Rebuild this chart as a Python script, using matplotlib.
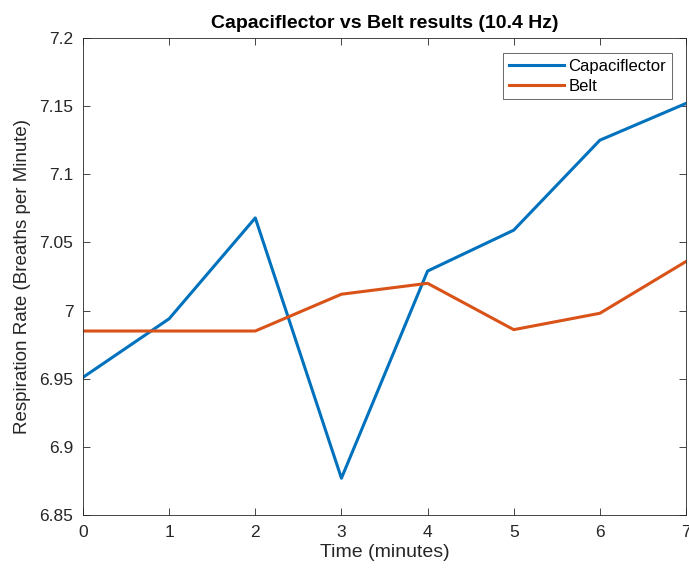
import matplotlib
matplotlib.use("Agg")
import matplotlib.pyplot as plt

# values
minutes = [0, 1, 2, 3, 4, 5, 6, 7]
capaciflector = [6.951, 6.994, 7.068, 6.877, 7.029, 7.059, 7.125, 7.152]
belt = [6.985, 6.985, 6.985, 7.012, 7.020, 6.986, 6.998, 7.036]
yticks = [6.85, 6.9, 6.95, 7.0, 7.05, 7.1, 7.15, 7.2]
ytick_labels = ["6.85", "6.9", "6.95", "7", "7.05", "7.1", "7.15", "7.2"]

plt.rcParams['font.family'] = ['Liberation Sans', 'DejaVu Sans']
axis_col = (0.15, 0.15, 0.15)

fig = plt.figure(figsize=(6.89, 5.69), dpi=100)
ax = fig.add_axes([83 / 689, 1 - 515 / 569, (686 - 83) / 689, (515 - 38) / 569])

ax.plot(minutes, capaciflector, color=(0, 0.447, 0.741), lw=2.2, label="Capaciflector")
ax.plot(minutes, belt, color=(0.85, 0.325, 0.098), lw=2.2, label="Belt")

ax.set_xlim(0, 7)
ax.set_ylim(6.85, 7.2)
ax.set_xticks(minutes)
ax.set_yticks(yticks)
ax.set_yticklabels(ytick_labels)
ax.tick_params(direction="in", top=True, right=True, length=5, width=0.6,
               colors=axis_col, labelsize=12.5, pad=7)
ax.tick_params(axis="x", pad=7)
for s in ax.spines.values():
    s.set_color(axis_col)
    s.set_linewidth(0.6)

ax.set_xlabel("Time (minutes)", fontsize=14, color=axis_col, labelpad=3)
ax.set_ylabel("Respiration Rate (Breaths per Minute)", fontsize=13.5, color=axis_col, labelpad=6)
ax.set_title("Capaciflector vs Belt results (10.4 Hz)", fontsize=14, fontweight="bold",
             color="black", pad=7)

leg = ax.legend(loc="upper right", fontsize=12, frameon=True, fancybox=False,
                edgecolor=axis_col, borderpad=0.35, handlelength=3.3, handletextpad=0.3,
                labelspacing=0.3, bbox_to_anchor=(0.977, 0.969), borderaxespad=0)
leg.get_frame().set_linewidth(0.6)

fig.savefig("out.png", dpi=100)
